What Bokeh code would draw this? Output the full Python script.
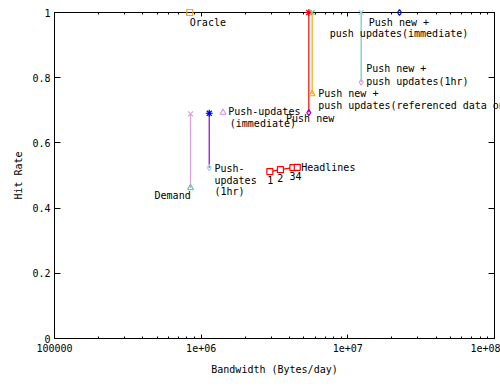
from bokeh.plotting import figure
from bokeh.models import (Range1d, FixedTicker, CustomJSTickFormatter, LogAxis,
                          LinearAxis, ColumnDataSource)
from bokeh.core.properties import value
from bokeh.embed import file_html
from bokeh.resources import INLINE

# ---- data ----
# vertical ranges: bandwidth, low hit rate, high hit rate
range_names = ["Demand", "Push-updates", "Push new", "Push new + ref", "Push new + 1hr"]
range_bw = [8.46e5, 1.135e6, 5.42e6, 5.71e6, 1.233e7]
range_low = [0.462, 0.524, 0.693, 0.750, 0.786]
range_high = [0.689, 0.691, 1.0, 1.0, 1.0]
range_line_colors = ["#dda0dd", "#9400d3", "#ff0000", "#ffa500", "#66cdaa"]
range_top_markers = ["x", "asterisk", "asterisk", "x", "x"]
range_top_colors = ["#dda0dd", "#0000ff", "#ff0000", "#66cdaa", "#add8e6"]
range_low_markers = ["triangle", "diamond", "diamond", "triangle", "diamond"]
range_low_colors = ["#66cdaa", "#add8e6", "#9400d3", "#ffa500", "#dda0dd"]

# single points
point_names = ["Oracle", "Push-updates (immediate)", "Push new + push updates (immediate)"]
point_bw = [8.36e5, 1.41e6, 2.25e7]
point_hit = [1.0, 0.693, 1.0]
point_markers = ["square", "triangle", "diamond"]
point_colors = ["#ffa500", "#dda0dd", "#0000ff"]

# headlines series
headline_bw = [2.94e6, 3.47e6, 4.22e6, 4.52e6]
headline_hit = [0.512, 0.518, 0.524, 0.525]

# text labels (left x, middle y in data units)
label_text = ["Oracle", "Push new +", "push updates(immediate)", "Push new +",
              "push updates(1hr)", "Push new +", "push updates(referenced data only)",
              "Push new", "Push-updates", "(immediate)", "Push-", "updates", "(1hr)",
              "Demand", "1", "2", "34", "Headlines"]
label_x = [8.37e5, 1.39e7, 7.53e6, 1.334e7, 1.334e7, 6.28e6, 6.28e6, 3.79e6,
           1.528e6, 1.567e6, 1.233e6, 1.233e6, 1.233e6, 4.81e5, 2.82e6, 3.30e6,
           4.00e6, 4.81e6]
label_y = [0.970, 0.970, 0.935, 0.827, 0.789, 0.752, 0.716, 0.675, 0.696, 0.659,
           0.521, 0.485, 0.452, 0.440, 0.485, 0.493, 0.497, 0.525]

x_ticks = [1e5, 1e6, 1e7, 1e8]
x_tick_labels = ["100000", "1e+06", "1e+07", "1e+08"]
x_minor = [m * 10 ** d for d in range(5, 8) for m in range(2, 10)]
y_ticks = [0, 0.2, 0.4, 0.6, 0.8, 1]
y_tick_labels = ["0", "0.2", "0.4", "0.6", "0.8", "1"]

FONT = "DejaVu Sans Mono"

p = figure(width=500, height=386, x_axis_type="log",
           x_range=Range1d(1e5, 1e8), y_range=Range1d(0, 1),
           output_backend="svg", toolbar_location=None,
           min_border_left=54, min_border_right=6, min_border_top=12,
           min_border_bottom=48)
p.xgrid.visible = False
p.ygrid.visible = False
p.outline_line_color = "black"
p.outline_line_alpha = 1
p.background_fill_color = "white"
p.border_fill_color = "white"

fmt_js = ("const i = tvals.findIndex(t => Math.abs(t - tick) <= 1e-6 * Math.max(1, Math.abs(t)));"
          "return i >= 0 ? tlabels[i] : '';")
blank = CustomJSTickFormatter(code="return '';")


def style_axis(ax, labels_visible=True):
    ax.axis_line_color = "black"
    ax.major_tick_line_color = "black"
    ax.minor_tick_line_color = "black"
    ax.major_tick_out = 0
    ax.minor_tick_out = 0
    ax.major_label_text_font = FONT
    ax.major_label_text_font_size = "10px"
    ax.major_label_text_color = "black"
    ax.axis_label_text_font = FONT
    ax.axis_label_text_font_size = "10px"
    ax.axis_label_text_font_style = "normal"
    ax.axis_label_text_color = "black"
    if not labels_visible:
        ax.major_label_standoff = 0
        ax.major_label_text_font_size = "0px"


xa = p.xaxis[0]
xa.ticker = FixedTicker(ticks=x_ticks, minor_ticks=x_minor)
xa.formatter = CustomJSTickFormatter(args=dict(tvals=x_ticks, tlabels=x_tick_labels), code=fmt_js)
style_axis(xa)
xa.major_tick_in = 4
xa.minor_tick_in = 2
xa.major_label_standoff = 5
xa.axis_label = "Bandwidth (Bytes/day)"
xa.axis_label_standoff = 9

ya = p.yaxis[0]
ya.ticker = FixedTicker(ticks=y_ticks, minor_ticks=[])
ya.formatter = CustomJSTickFormatter(args=dict(tvals=y_ticks, tlabels=y_tick_labels), code=fmt_js)
style_axis(ya)
ya.major_tick_in = 6
ya.major_label_standoff = 4
ya.axis_label = "Hit Rate"
ya.axis_label_standoff = 5

top = LogAxis(ticker=FixedTicker(ticks=x_ticks, minor_ticks=x_minor), formatter=blank)
style_axis(top, False)
top.major_tick_in = 4
top.minor_tick_in = 2
p.add_layout(top, "above")

right = LinearAxis(ticker=FixedTicker(ticks=y_ticks, minor_ticks=[]), formatter=blank)
style_axis(right, False)
right.major_tick_in = 6
p.add_layout(right, "right")

# vertical range segments
rsrc = ColumnDataSource(dict(x=range_bw, lo=range_low, hi=range_high,
                             lc=range_line_colors, tm=range_top_markers,
                             tc=range_top_colors, bm=range_low_markers,
                             bc=range_low_colors))
p.segment(x0="x", y0="lo", x1="x", y1="hi", line_color="lc", line_width=1.2, source=rsrc)
p.scatter(x="x", y="hi", marker="tm", line_color="tc", fill_color=None, size=7,
          line_width=1.2, source=rsrc, level="overlay")
p.scatter(x="x", y="lo", marker="bm", line_color="bc", fill_color=None, size=6,
          line_width=1.2, source=rsrc, level="overlay")

# single points
psrc = ColumnDataSource(dict(x=point_bw, y=point_hit, m=point_markers, c=point_colors))
p.scatter(x="x", y="y", marker="m", line_color="c", fill_color=None, size=6,
          line_width=1.2, source=psrc, level="overlay")

# headlines
p.line(headline_bw, headline_hit, line_color="#ff0000", line_width=1.2)
p.scatter(headline_bw, headline_hit, marker="square", line_color="#ff0000",
          fill_color="white", size=6, line_width=1.2)

# text labels
tsrc = ColumnDataSource(dict(x=label_x, y=label_y, t=label_text))
p.text(x="x", y="y", text="t", source=tsrc, text_font=value(FONT),
       text_font_size="10px", text_color="black", text_align="left",
       text_baseline="middle", level="overlay")

open("out.html", "w").write(file_html(p, INLINE))
